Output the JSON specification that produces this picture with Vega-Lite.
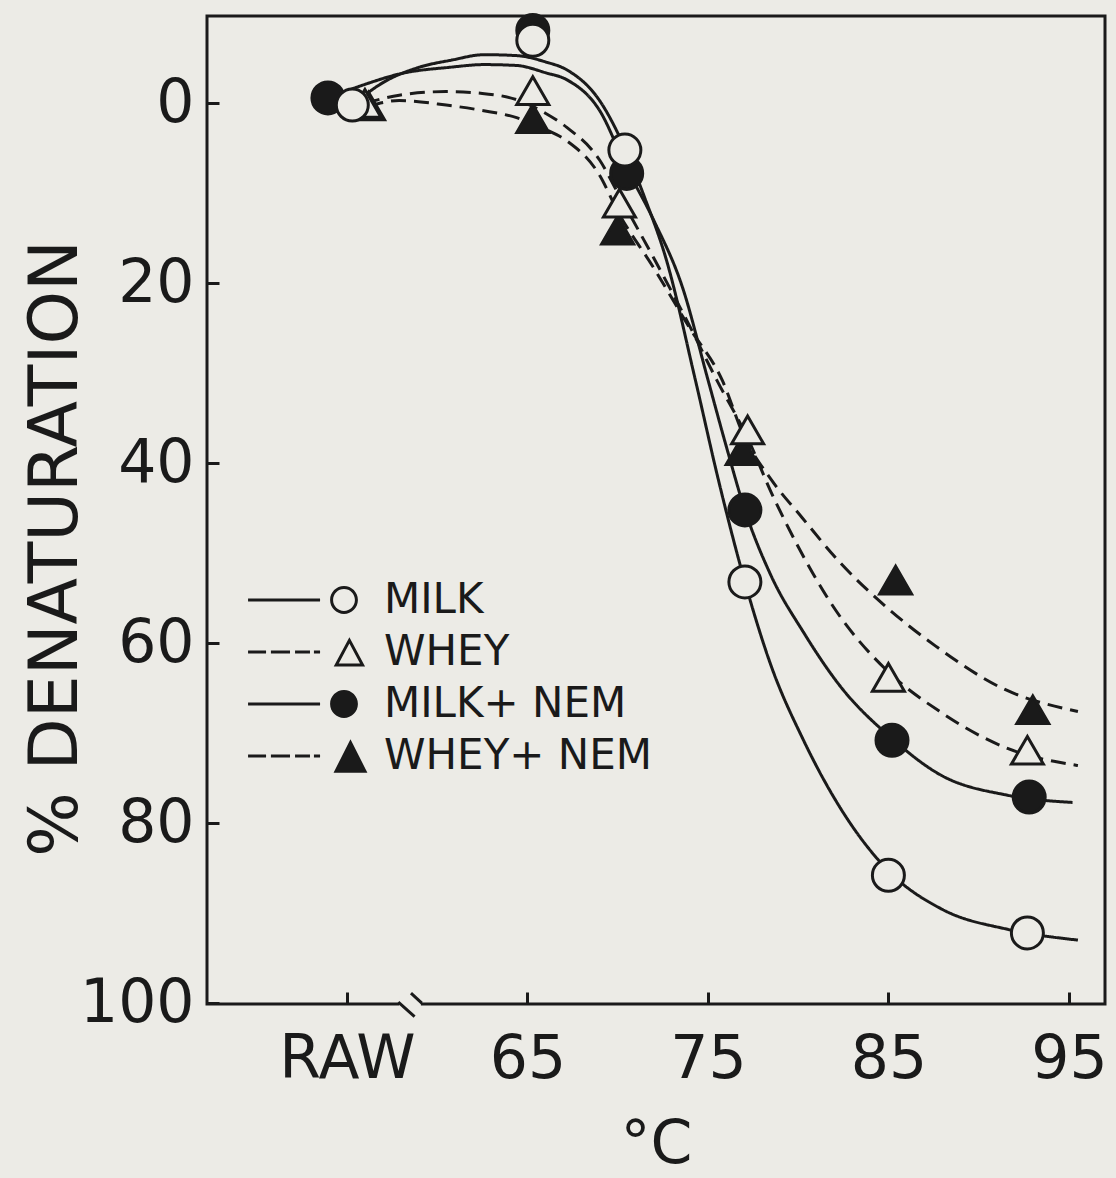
{
  "$schema": "https://vega.github.io/schema/vega-lite/v6.json",
  "autosize": {"type": "none"},
  "width": 898,
  "height": 988,
  "padding": {"left": 207, "top": 16, "right": 11, "bottom": 174},
  "background": "#ecebe6",
  "datasets": {
    "curves": [
      {"series": "MILK", "x": 55.3, "y": 0.2}, {"series": "MILK", "x": 57, "y": -2.3}, {"series": "MILK", "x": 59, "y": -4.0}, {"series": "MILK", "x": 60.8, "y": -4.8}, {"series": "MILK", "x": 62.6, "y": -5.4}, {"series": "MILK", "x": 64.4, "y": -5.3}, {"series": "MILK", "x": 66, "y": -4.6}, {"series": "MILK", "x": 67.2, "y": -3.7}, {"series": "MILK", "x": 69, "y": -0.3}, {"series": "MILK", "x": 70.4, "y": 5.0}, {"series": "MILK", "x": 71.5, "y": 10.5}, {"series": "MILK", "x": 72.7, "y": 17.4}, {"series": "MILK", "x": 74.3, "y": 30.7}, {"series": "MILK", "x": 75.6, "y": 42}, {"series": "MILK", "x": 77.05, "y": 53.2}, {"series": "MILK", "x": 78.5, "y": 62.5}, {"series": "MILK", "x": 80.3, "y": 70.8}, {"series": "MILK", "x": 82.3, "y": 78.2}, {"series": "MILK", "x": 85, "y": 85.3}, {"series": "MILK", "x": 88, "y": 89.6}, {"series": "MILK", "x": 91.6, "y": 91.8}, {"series": "MILK", "x": 95.5, "y": 93.0},
      {"series": "MILK+ NEM", "x": 54.0, "y": -0.6}, {"series": "MILK+ NEM", "x": 56, "y": -2.1}, {"series": "MILK+ NEM", "x": 58, "y": -3.3}, {"series": "MILK+ NEM", "x": 60.7, "y": -4.0}, {"series": "MILK+ NEM", "x": 62.6, "y": -4.3}, {"series": "MILK+ NEM", "x": 64.4, "y": -4.2}, {"series": "MILK+ NEM", "x": 66, "y": -3.4}, {"series": "MILK+ NEM", "x": 67.2, "y": -2.6}, {"series": "MILK+ NEM", "x": 69, "y": 0.8}, {"series": "MILK+ NEM", "x": 70.5, "y": 7.2}, {"series": "MILK+ NEM", "x": 72, "y": 13}, {"series": "MILK+ NEM", "x": 73.6, "y": 20.5}, {"series": "MILK+ NEM", "x": 75, "y": 30.7}, {"series": "MILK+ NEM", "x": 76, "y": 38}, {"series": "MILK+ NEM", "x": 77.05, "y": 45.2}, {"series": "MILK+ NEM", "x": 78.5, "y": 52.5}, {"series": "MILK+ NEM", "x": 80.3, "y": 58.8}, {"series": "MILK+ NEM", "x": 82.3, "y": 64.7}, {"series": "MILK+ NEM", "x": 85.2, "y": 70.6}, {"series": "MILK+ NEM", "x": 87.85, "y": 74.6}, {"series": "MILK+ NEM", "x": 91.6, "y": 76.9}, {"series": "MILK+ NEM", "x": 95.2, "y": 77.7},
      {"series": "WHEY", "x": 56.0, "y": 0.0}, {"series": "WHEY", "x": 57.9, "y": -0.9}, {"series": "WHEY", "x": 60.5, "y": -1.3}, {"series": "WHEY", "x": 62.5, "y": -1.1}, {"series": "WHEY", "x": 64.4, "y": -0.4}, {"series": "WHEY", "x": 66, "y": 1.1}, {"series": "WHEY", "x": 67.2, "y": 2.7}, {"series": "WHEY", "x": 69, "y": 6.3}, {"series": "WHEY", "x": 70.1, "y": 10.3}, {"series": "WHEY", "x": 72, "y": 17.2}, {"series": "WHEY", "x": 74, "y": 24.8}, {"series": "WHEY", "x": 75.5, "y": 30.8}, {"series": "WHEY", "x": 77.2, "y": 37.2}, {"series": "WHEY", "x": 78.5, "y": 43.2}, {"series": "WHEY", "x": 79.9, "y": 48.9}, {"series": "WHEY", "x": 82.1, "y": 56.4}, {"series": "WHEY", "x": 85, "y": 63.2}, {"series": "WHEY", "x": 87.85, "y": 67.6}, {"series": "WHEY", "x": 91.6, "y": 71.7}, {"series": "WHEY", "x": 95.5, "y": 73.6},
      {"series": "WHEY+ NEM", "x": 56.2, "y": 0.3}, {"series": "WHEY+ NEM", "x": 57.9, "y": -0.3}, {"series": "WHEY+ NEM", "x": 60.5, "y": 0.2}, {"series": "WHEY+ NEM", "x": 62.5, "y": 0.8}, {"series": "WHEY+ NEM", "x": 64.4, "y": 1.6}, {"series": "WHEY+ NEM", "x": 66, "y": 2.9}, {"series": "WHEY+ NEM", "x": 67.2, "y": 4.2}, {"series": "WHEY+ NEM", "x": 69, "y": 8.0}, {"series": "WHEY+ NEM", "x": 70.0, "y": 12.0}, {"series": "WHEY+ NEM", "x": 72, "y": 18.3}, {"series": "WHEY+ NEM", "x": 74, "y": 25.0}, {"series": "WHEY+ NEM", "x": 75.8, "y": 30.8}, {"series": "WHEY+ NEM", "x": 77.0, "y": 37.0}, {"series": "WHEY+ NEM", "x": 78.5, "y": 41.8}, {"series": "WHEY+ NEM", "x": 80.2, "y": 46.0}, {"series": "WHEY+ NEM", "x": 82.3, "y": 51.0}, {"series": "WHEY+ NEM", "x": 84.5, "y": 55.3}, {"series": "WHEY+ NEM", "x": 87.6, "y": 60.3}, {"series": "WHEY+ NEM", "x": 91.3, "y": 65.0}, {"series": "WHEY+ NEM", "x": 95.5, "y": 67.6}
    ],
    "points": [
      {"series": "WHEY+ NEM", "x": 56.2, "y": 0.3}, {"series": "WHEY+ NEM", "x": 65.3, "y": 1.7}, {"series": "WHEY+ NEM", "x": 70.0, "y": 14.1}, {"series": "WHEY+ NEM", "x": 76.9, "y": 38.6}, {"series": "WHEY+ NEM", "x": 85.4, "y": 53.0}, {"series": "WHEY+ NEM", "x": 93.0, "y": 67.4},
      {"series": "WHEY", "x": 56.0, "y": 0.0}, {"series": "WHEY", "x": 65.3, "y": -1.4}, {"series": "WHEY", "x": 70.1, "y": 11.1}, {"series": "WHEY", "x": 77.2, "y": 36.3}, {"series": "WHEY", "x": 85.0, "y": 63.8}, {"series": "WHEY", "x": 92.7, "y": 71.9},
      {"series": "MILK+ NEM", "x": 53.95, "y": -0.6}, {"series": "MILK+ NEM", "x": 65.3, "y": -8.1}, {"series": "MILK+ NEM", "x": 70.5, "y": 7.8}, {"series": "MILK+ NEM", "x": 77.05, "y": 45.2}, {"series": "MILK+ NEM", "x": 85.2, "y": 70.8}, {"series": "MILK+ NEM", "x": 92.8, "y": 77.1},
      {"series": "MILK", "x": 55.3, "y": 0.2}, {"series": "MILK", "x": 65.3, "y": -7.0}, {"series": "MILK", "x": 70.4, "y": 5.2}, {"series": "MILK", "x": 77.05, "y": 53.2}, {"series": "MILK", "x": 85.0, "y": 85.8}, {"series": "MILK", "x": 92.7, "y": 92.2}
    ]
  },
  "encoding": {
    "x": {
      "type": "quantitative",
      "scale": {"domain": [47.25, 97.0], "nice": false, "zero": false},
      "axis": {
        "values": [55, 65, 75, 85, 95],
        "labelExpr": "datum.value == 55 ? 'RAW' : datum.label",
        "title": "°C",
        "titleFontSize": 60,
        "titleY": 158,
        "titleBaseline": "alphabetic",
        "labelPadding": 38
      }
    },
    "y": {
      "type": "quantitative",
      "scale": {"domain": [-9.7, 100.1], "reverse": true, "nice": false, "zero": false},
      "axis": {
        "values": [0, 20, 40, 60, 80, 100],
        "title": "% DENATURATION",
        "titleFontSize": 68,
        "titleAngle": -90,
        "titleX": -131,
        "titleY": 532,
        "titleAlign": "center",
        "titleBaseline": "alphabetic",
        "labelPadding": 25
      }
    }
  },
  "layer": [
    {
      "data": {"name": "curves"},
      "mark": {"type": "line", "interpolate": "monotone", "stroke": "#1a1a1a", "strokeWidth": 3},
      "encoding": {
        "x": {"field": "x", "type": "quantitative"},
        "y": {"field": "y", "type": "quantitative"},
        "strokeDash": {
          "field": "series", "type": "nominal",
          "scale": {"domain": ["MILK", "WHEY", "MILK+ NEM", "WHEY+ NEM"], "range": [[1, 0], [15, 8], [1, 0], [15, 8]]},
          "legend": null
        }
      }
    },
    {
      "data": {"values": [{}]},
      "mark": {"type": "rect", "fill": "#ecebe6"},
      "encoding": {
        "x": {"datum": 57.9, "type": "quantitative"},
        "x2": {"datum": 59.1},
        "y": {"datum": 99.1, "type": "quantitative"},
        "y2": {"datum": 101.0}
      }
    },
    {
      "data": {"values": [{}]},
      "mark": {"type": "rule", "stroke": "#1a1a1a", "strokeWidth": 3},
      "encoding": {
        "x": {"datum": 57.85, "type": "quantitative"},
        "x2": {"datum": 58.75},
        "y": {"datum": 99.9, "type": "quantitative"},
        "y2": {"datum": 101.5}
      }
    },
    {
      "data": {"values": [{}]},
      "mark": {"type": "rule", "stroke": "#1a1a1a", "strokeWidth": 3},
      "encoding": {
        "x": {"datum": 58.55, "type": "quantitative"},
        "x2": {"datum": 59.15},
        "y": {"datum": 98.9, "type": "quantitative"},
        "y2": {"datum": 100.0}
      }
    },
    {
      "data": {"name": "points"},
      "mark": {"type": "point", "stroke": "#1a1a1a", "strokeWidth": 3, "size": 1024, "opacity": 1},
      "encoding": {
        "x": {"field": "x", "type": "quantitative"},
        "y": {"field": "y", "type": "quantitative"},
        "shape": {
          "field": "series", "type": "nominal",
          "scale": {"domain": ["MILK", "WHEY", "MILK+ NEM", "WHEY+ NEM"], "range": ["circle", "triangle-up", "circle", "triangle-up"]},
          "legend": null
        },
        "fill": {
          "field": "series", "type": "nominal",
          "scale": {"domain": ["MILK", "WHEY", "MILK+ NEM", "WHEY+ NEM"], "range": ["#ecebe6", "#ecebe6", "#1a1a1a", "#1a1a1a"]},
          "legend": null
        }
      }
    },
    {
      "data": {"name": "points"},
      "mark": {"type": "point", "opacity": 0},
      "encoding": {
        "x": {"field": "x", "type": "quantitative"},
        "y": {"field": "y", "type": "quantitative"},
        "fill": {
          "field": "series", "type": "nominal",
          "scale": {"domain": ["MILK", "WHEY", "MILK+ NEM", "WHEY+ NEM"], "range": ["#1a1a1a", "#1a1a1a", "#1a1a1a", "#1a1a1a"]},
          "legend": {"orient": "none", "legendX": 116, "legendY": 563, "title": null, "symbolStrokeWidth": 0, "symbolSize": 1296, "symbolOpacity": 1}
        },
        "shape": {
          "field": "series", "type": "nominal",
          "scale": {"domain": ["MILK", "WHEY", "MILK+ NEM", "WHEY+ NEM"], "range": [
            "M-5.33,-0.083H-1.33V0.083H-5.33ZM0.773,0A0.773,0.773,0,1,1,-0.773,0A0.773,0.773,0,1,1,0.773,0ZM0.607,0A0.607,0.607,0,1,0,-0.607,0A0.607,0.607,0,1,0,0.607,0Z",
            "M-5.33,-0.083H-4.33V0.083H-5.33ZM-4.06,-0.083H-3.0V0.083H-4.06ZM-2.72,-0.083H-1.89V0.083H-2.72ZM-1.67,-0.083H-1.33V0.083H-1.67ZM0.3,-0.82L1.17,0.8L-0.57,0.8ZM0.3,-0.468L-0.292,0.634L0.892,0.634Z",
            "M-5.33,-0.083H-1.33V0.083H-5.33ZM0.773,0A0.773,0.773,0,1,1,-0.773,0A0.773,0.773,0,1,1,0.773,0Z",
            "M-5.33,-0.083H-4.33V0.083H-5.33ZM-4.06,-0.083H-3.0V0.083H-4.06ZM-2.72,-0.083H-1.89V0.083H-2.72ZM-1.67,-0.083H-1.33V0.083H-1.67ZM0.36,-0.93L1.3,0.93L-0.58,0.93Z"
          ]},
          "legend": {"orient": "none", "legendX": 116, "legendY": 563, "title": null, "symbolStrokeWidth": 0, "symbolSize": 1296, "symbolOpacity": 1}
        }
      }
    }
  ],
  "resolve": {"scale": {"shape": "independent", "fill": "independent"}},
  "config": {
    "font": "DejaVu Sans",
    "view": {"stroke": "#1a1a1a", "strokeWidth": 3, "fill": null},
    "axis": {
      "domain": false,
      "grid": false,
      "tickSize": -12,
      "tickWidth": 3,
      "tickColor": "#1a1a1a",
      "labelFont": "DejaVu Sans",
      "labelFontSize": 60,
      "labelColor": "#1a1a1a",
      "labelFlush": false,
      "labelOverlap": false,
      "titleFont": "DejaVu Sans",
      "titleFontWeight": "normal",
      "titleColor": "#1a1a1a"
    },
    "legend": {
      "orient": "none",
      "legendX": 116,
      "legendY": 563,
      "direction": "vertical",
      "title": null,
      "padding": 0,
      "labelFont": "DejaVu Sans",
      "labelFontSize": 42,
      "labelColor": "#1a1a1a",
      "labelLimit": 0,
      "labelOffset": 19,
      "rowPadding": 10,
      "symbolSize": 1296,
      "symbolStrokeWidth": 0,
      "symbolOpacity": 1
    }
  }
}
